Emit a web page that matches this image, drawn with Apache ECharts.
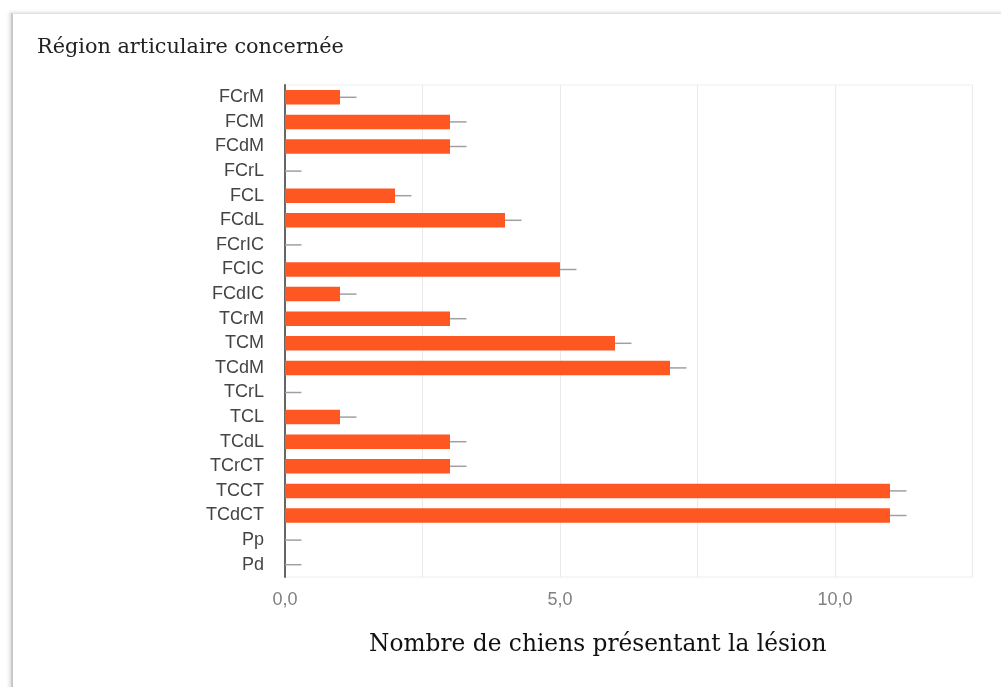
<!DOCTYPE html>
<html>
<head>
<meta charset="utf-8">
<script src="https://cdn.jsdelivr.net/npm/echarts@6/dist/echarts.min.js"></script>
<style>
  html, body { margin: 0; padding: 0; background: #ffffff; }
  #card { position: absolute; left: 11px; top: 13px; width: 1100px; height: 800px;
          border-left: 2px solid #c8c8c8; border-top: 1px solid #e2e2e2;
          box-shadow: -2px -1px 3px rgba(0,0,0,0.12); background: #fff; }
  #chart { position: absolute; left: 0; top: 0; width: 1001px; height: 687px; }
</style>
</head>
<body>
<div id="card"></div>
<div id="chart"></div>
<script>
const categories = ['FCrM','FCM','FCdM','FCrL','FCL','FCdL','FCrIC','FCIC','FCdIC','TCrM','TCM','TCdM','TCrL','TCL','TCdL','TCrCT','TCCT','TCdCT','Pp','Pd'];
const values =     [1, 3, 3, 0, 2, 4, 0, 5, 1, 3, 6, 7, 0, 1, 3, 3, 11, 11, 0, 0];
const errorPlus =  [0.3, 0.3, 0.3, 0.3, 0.3, 0.3, 0.3, 0.3, 0.3, 0.3, 0.3, 0.3, 0.3, 0.3, 0.3, 0.3, 0.3, 0.3, 0.3, 0.3];
const xTickStep = 2.5;
const xMax = 12.5;
const titleText = 'Région articulaire concernée';
const xAxisTitle = 'Nombre de chiens présentant la lésion';

const chart = echarts.init(document.getElementById('chart'), null, { renderer: 'canvas' });
chart.setOption({
  backgroundColor: 'transparent',
  animation: false,
  title: [
    { text: titleText, left: 32, top: 32,
      textStyle: { fontFamily: 'DejaVu Serif', fontSize: 20.8, fontWeight: 'normal', color: '#222' } },
    { text: xAxisTitle, left: 364, top: 628,
      textStyle: { fontFamily: 'DejaVu Serif', fontSize: 23.3, fontWeight: 'normal', color: '#111' } }
  ],
  grid: { left: 285, right: 28.5, top: 85, bottom: 110, show: true, borderColor: '#eeeeee', borderWidth: 1 },
  xAxis: {
    type: 'value', min: 0, max: xMax, interval: xTickStep,
    axisLine: { show: false }, axisTick: { show: false },
    splitLine: { lineStyle: { color: '#eaeaea', width: 1 } },
    axisLabel: {
      margin: 14, color: '#808080', fontFamily: 'Liberation Sans', fontSize: 18,
      formatter: function (v) { return (v % 5 === 0) ? v.toFixed(1).replace('.', ',') : ''; }
    }
  },
  yAxis: {
    type: 'category', data: categories, inverse: true,
    axisLine: { show: true, lineStyle: { color: '#666', width: 2 } },
    axisTick: { show: false },
    axisLabel: { margin: 21, color: '#444', fontFamily: 'Liberation Sans', fontSize: 18 }
  },
  series: [
    { type: 'bar', data: values, barWidth: 14.5,
      itemStyle: { color: '#FF5722' }, z: 2 },
    { type: 'custom', z: 3,
      data: values.map((v, i) => [v, i, errorPlus[i]]),
      encode: { x: 0, y: 1 },
      renderItem: function (params, api) {
        const v = api.value(0), c = api.value(1), e = api.value(2);
        const p1 = api.coord([v, c]);
        const p2 = api.coord([v + e, c]);
        return { type: 'line', shape: { x1: p1[0], y1: p1[1], x2: p2[0], y2: p2[1] },
                 style: { stroke: '#a0a0a0', lineWidth: 1.5 } };
      }
    }
  ]
});
</script>
</body>
</html>
